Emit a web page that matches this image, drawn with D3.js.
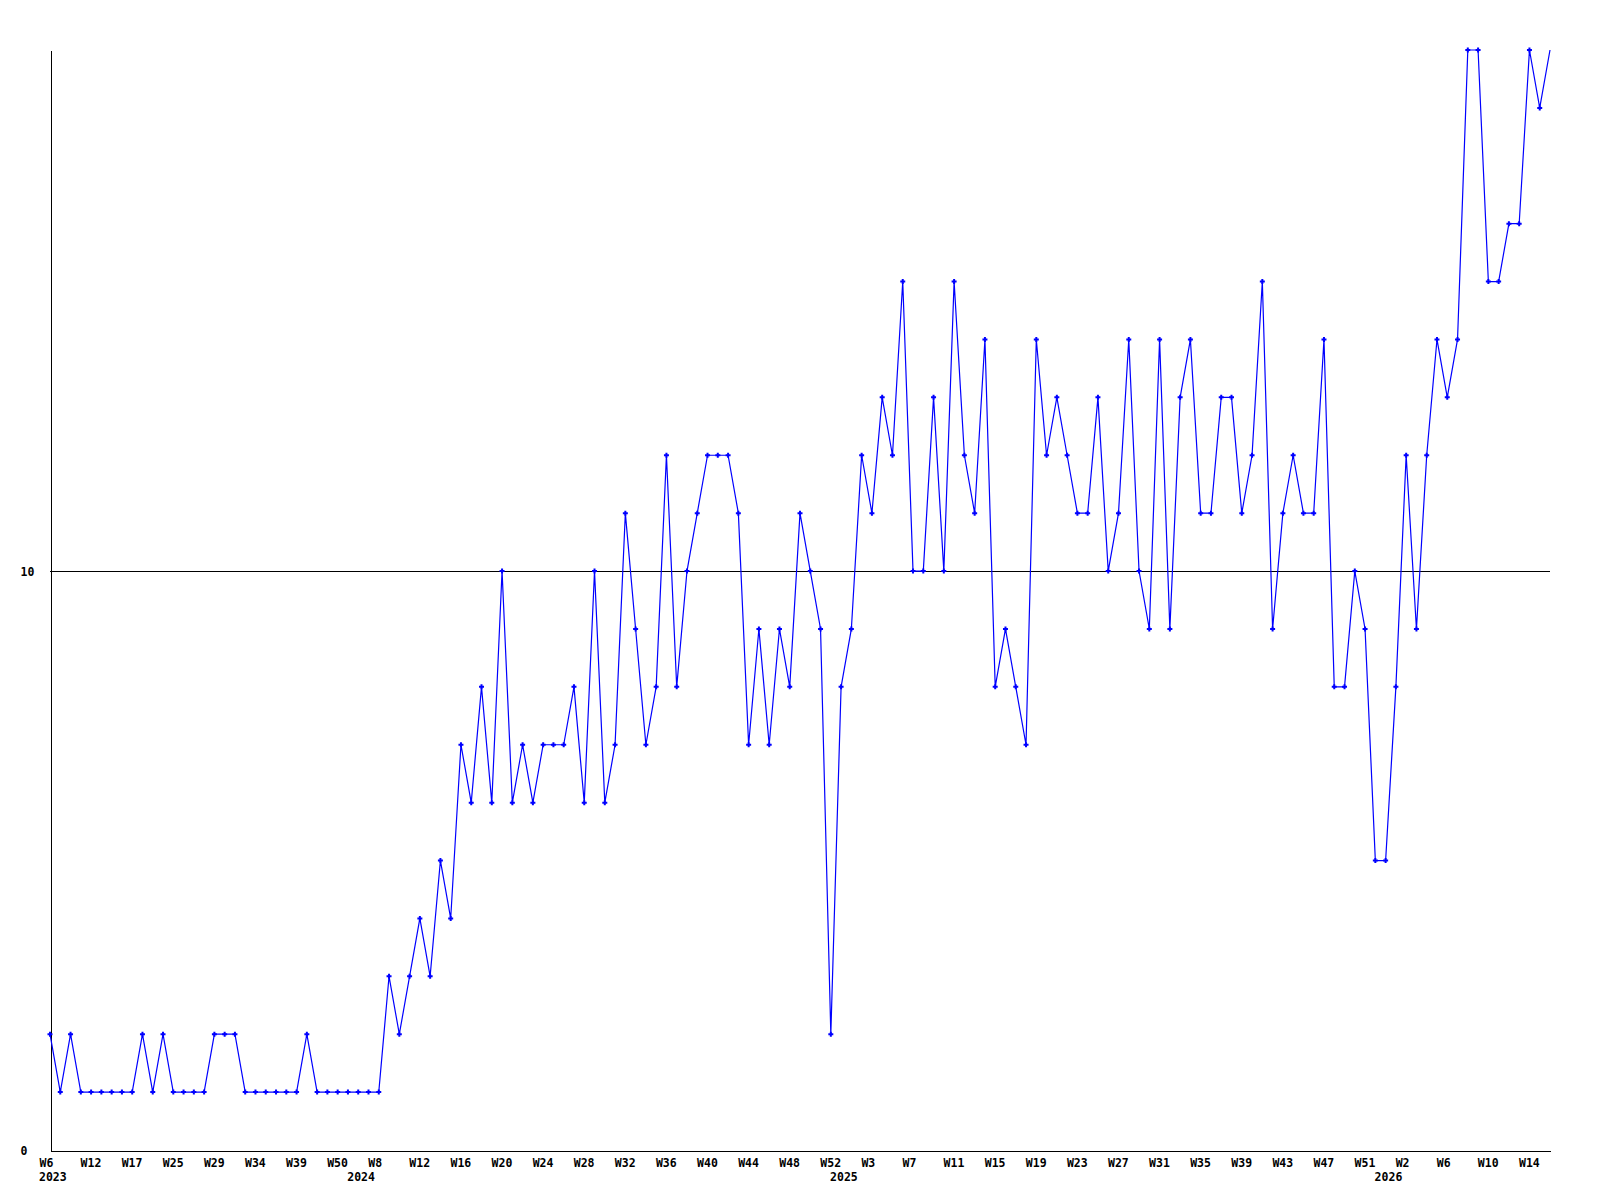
<!DOCTYPE html>
<html>
<head>
<meta charset="utf-8">
<script src="https://cdn.jsdelivr.net/npm/d3@7/dist/d3.min.js"></script>
<style>
  html, body { margin: 0; padding: 0; background: #ffffff; }
  svg { display: block; }
  text { font-family: "DejaVu Sans Mono", "Liberation Mono", monospace; font-weight: bold; font-size: 11.5px; fill: #000; }
</style>
</head>
<body>
<svg id="chart" width="1600" height="1200"></svg>
<script>
// ---- data ----
const values = [
  2,1,2,1,1,1,1,1,1,2,1,2,1,1,1,1,2,2,2,1,1,1,1,1,1,2,1,1,1,1,1,1,1,
  3,2,3,4,3,5,4,7,6,8,6,10,6,7,6,7,7,7,8,6,10,6,7,
  11,9,7,8,12,8,10,11,12,12,12,11,7,9,7,9,8,11,10,9,
  2,8,9,12,11,13,12,15,10,10,13,10,15,12,11,14,8,9,8,7,
  14,12,13,12,11,11,13,10,11,14,10,9,14,9,13,14,11,11,13,13,
  11,12,15,9,11,12,11,11,14,8,8,10,9,5,5,8,12,9,12,14,
  13,14,19,19,15,15,16,16,19,18,19
];
const weekTickLabels = ["W6","W12","W17","W25","W29","W34","W39","W50",
  "W8","W12","W16","W20","W24","W28","W32","W36","W40","W44","W48","W52",
  "W3","W7","W11","W15","W19","W23","W27","W31","W35","W39","W43","W47","W51",
  "W2","W6","W10","W14"];
const tickEvery = 4;
const yearLabels = ["2023","2024","2025","2026"];
const yearStartIndex = [0, 30, 77, 130];
const yTicks = [0, 10];
const yMax = 19;

// ---- layout ----
const mLeft = 50, mRight = 1550, mTop = 50, mBottom = 1150;
const svg = d3.select("#chart");

const x = d3.scalePoint().domain(d3.range(values.length)).range([mLeft, mRight]);
const y = d3.scaleLinear().domain([0, yMax]).range([mBottom, mTop]);

// gridline at 10
svg.append("g").selectAll("line")
  .data(yTicks.filter(v => v > 0))
  .join("line")
  .attr("x1", mLeft).attr("x2", mRight)
  .attr("y1", d => Math.round(y(d)) + 0.5).attr("y2", d => Math.round(y(d)) + 0.5)
  .attr("stroke", "#000").attr("stroke-width", 1)
  .attr("shape-rendering", "crispEdges");

// y axis
const yAxis = svg.append("g")
  .attr("transform", `translate(${mLeft + 0.5},0)`)
  .call(d3.axisLeft(y).tickValues(yTicks).tickFormat(d3.format("d")).tickSize(0).tickSizeOuter(0));
yAxis.select(".domain").attr("stroke", "#000").attr("shape-rendering", "crispEdges");
yAxis.selectAll("text")
  .attr("text-anchor", "start")
  .attr("x", 20 - mLeft)
  .attr("dy", "0.35em")
  .style("font-family", "\"DejaVu Sans Mono\", monospace")
  .style("font-size", "11.5px").style("font-weight", "bold");

// x axis
const tickIdx = weekTickLabels.map((_, k) => k * tickEvery);
const xAxis = svg.append("g")
  .attr("transform", `translate(0,${mBottom + 0.5})`)
  .call(d3.axisBottom(x).tickValues(tickIdx)
    .tickFormat((d, k) => weekTickLabels[k]).tickSize(0).tickSizeOuter(0).tickPadding(8));
xAxis.select(".domain").attr("stroke", "#000").attr("shape-rendering", "crispEdges");
xAxis.selectAll("text")
  .attr("text-anchor", "start")
  .attr("dx", -11)
  .style("font-family", "\"DejaVu Sans Mono\", monospace")
  .style("font-size", "11.5px").style("font-weight", "bold");

// year labels
svg.append("g").selectAll("text")
  .data(yearLabels)
  .join("text")
  .attr("x", (d, k) => x(yearStartIndex[k]) - 11)
  .attr("y", mBottom + 31)
  .attr("text-anchor", "start")
  .text(d => d);

// line
const line = d3.line().x((d, i) => x(i)).y(d => y(d));
svg.append("path")
  .datum(values)
  .attr("d", line)
  .attr("fill", "none")
  .attr("stroke", "#0000ff")
  .attr("stroke-width", 1.2);

// markers (plus crosses), last point has no marker in the original
svg.append("g").selectAll("path")
  .data(values.slice(0, values.length - 1))
  .join("path")
  .attr("transform", (d, i) => `translate(${x(i)},${y(d)})`)
  .attr("d", "M-2.5,0H2.5M0,-2.5V2.5")
  .attr("stroke", "#0000ff")
  .attr("stroke-width", 2);
</script>
</body>
</html>
